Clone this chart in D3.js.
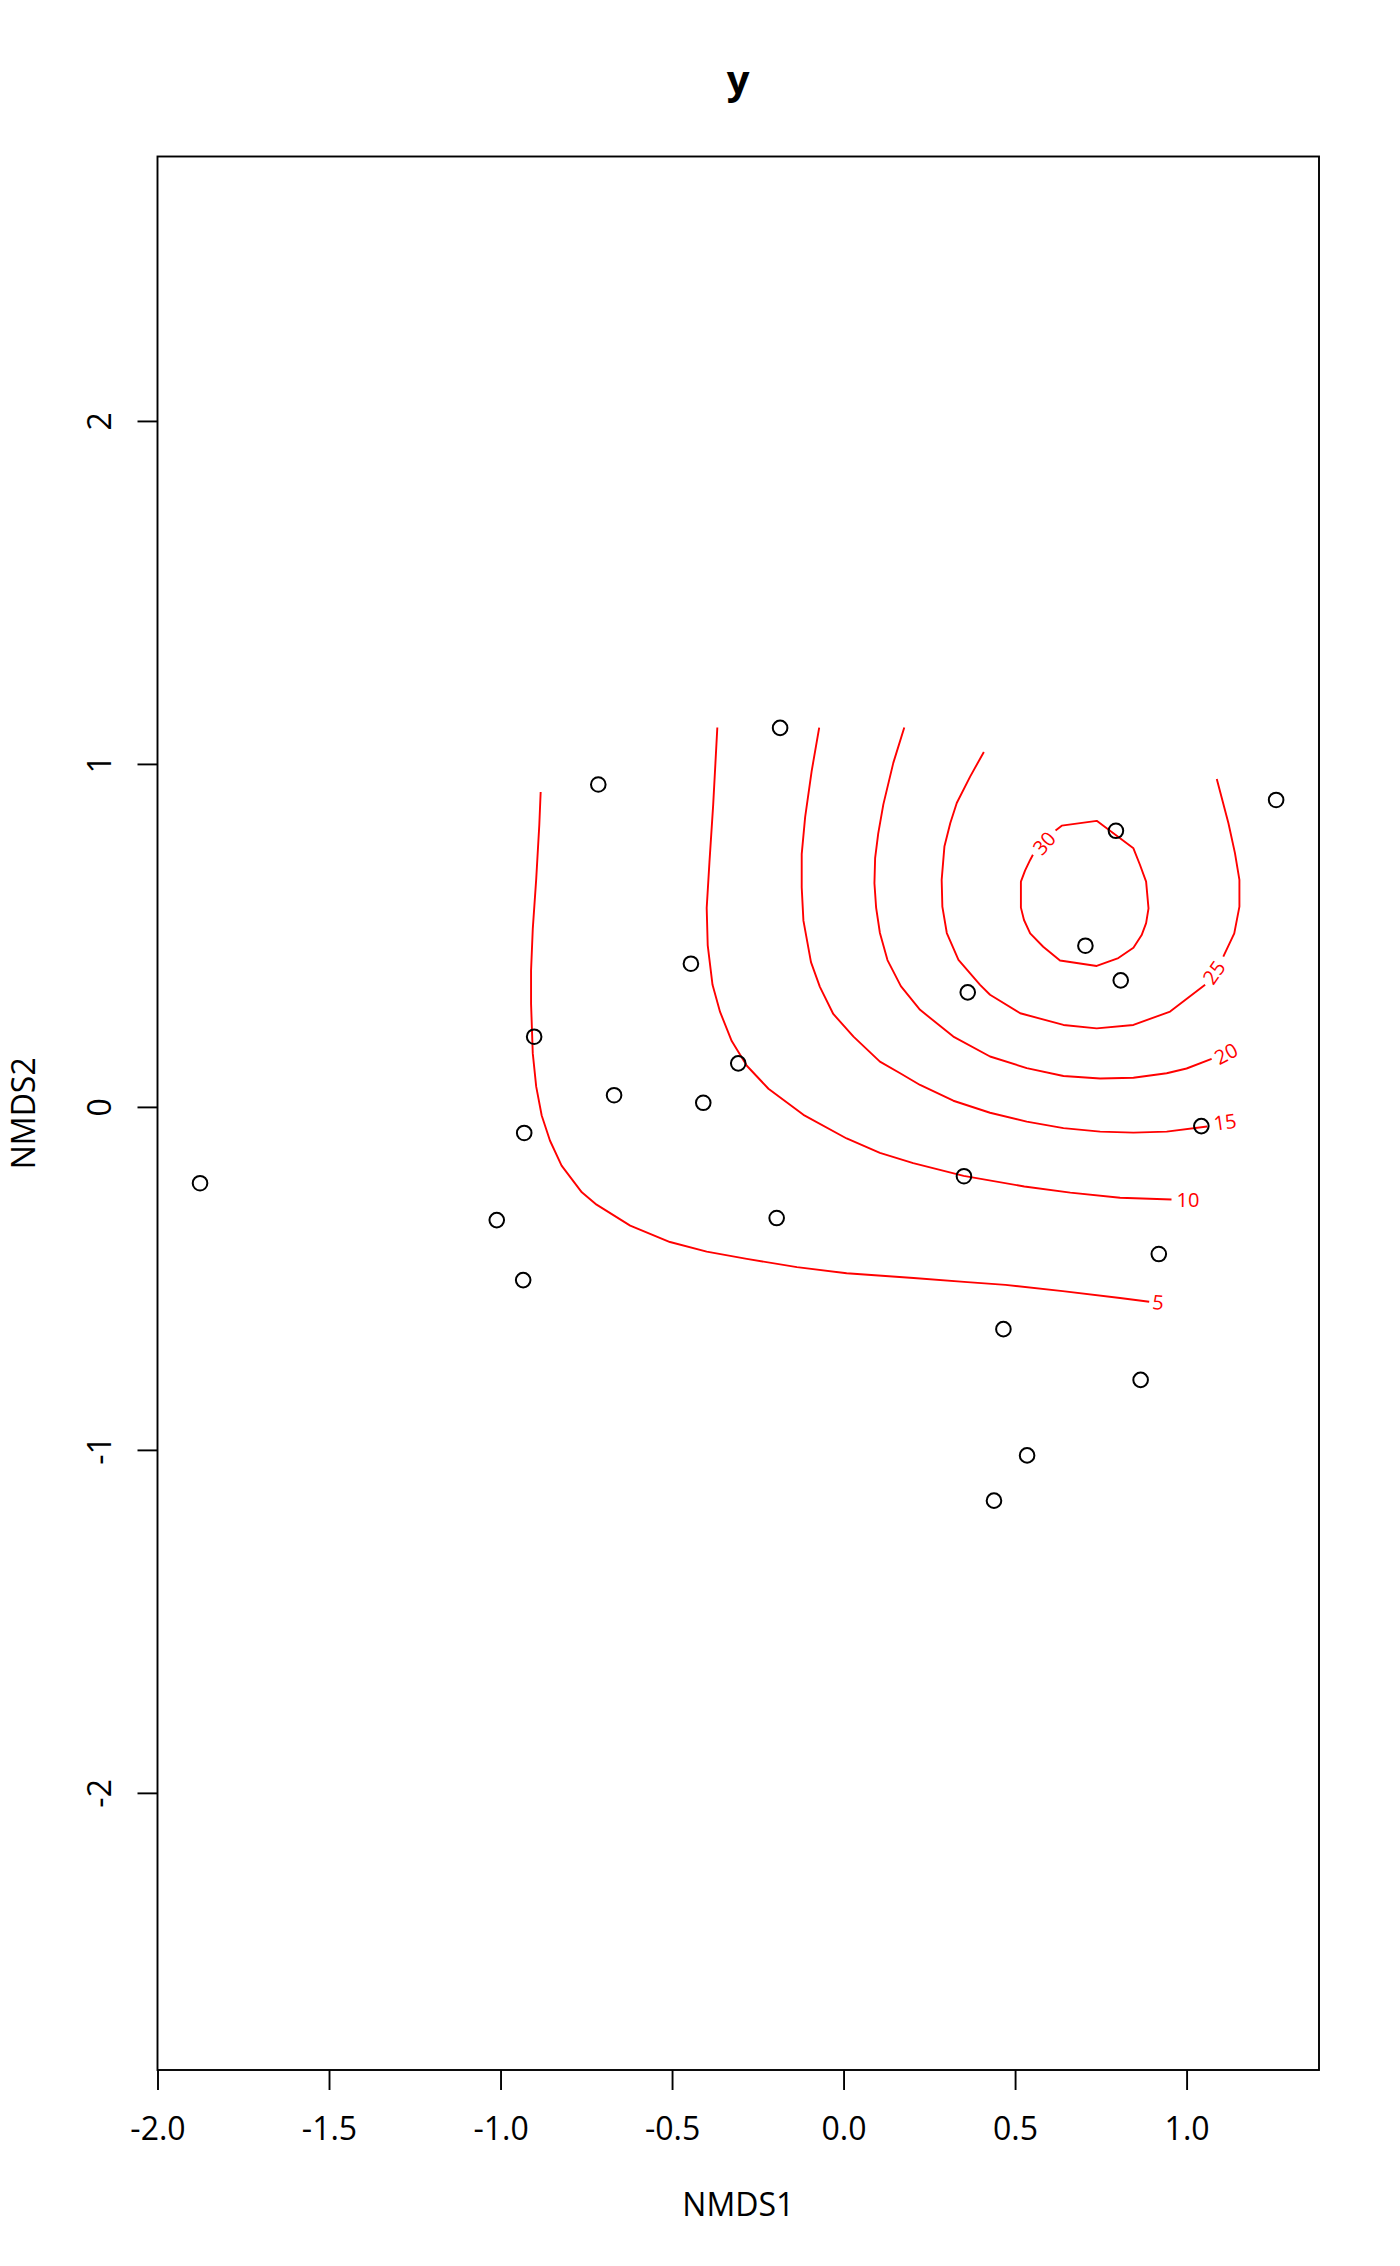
<!DOCTYPE html>
<html>
<head>
<meta charset="utf-8">
<script src="https://cdn.jsdelivr.net/npm/d3@7"></script>
<style>
  body { margin: 0; background: #fff; }
  svg { display: block; }
  text { font-family: "Open Sans", "Noto Sans", sans-serif; }
</style>
</head>
<body>
<svg id="chart" width="1400" height="2266"></svg>
<script>
// ---- Data ----
const title = "y";
const xLabel = "NMDS1";
const yLabel = "NMDS2";
const xTicks = [-2.0, -1.5, -1.0, -0.5, 0.0, 0.5, 1.0];
const yTicks = [-2, -1, 0, 1, 2];
const xLim = [-2.0, 1.386];
const yLim = [-2.808, 2.771];

// site scores (NMDS1, NMDS2)
const siteX = [-1.876, -0.715, -0.185, 1.261, 0.794, 0.705, 0.808, 0.362, -0.445, -0.902, -0.307, -0.669, -0.409, -0.931, -1.011, -0.934, -0.195, 0.351, 1.043, 0.919, 0.466, 0.866, 0.535, 0.4385];
const siteY = [-0.2225, 0.940, 1.105, 0.895, 0.805, 0.470, 0.369, 0.334, 0.4175, 0.2047, 0.127, 0.034, 0.012, -0.076, -0.330, -0.505, -0.324, -0.202, -0.056, -0.429, -0.648, -0.796, -1.016, -1.148];

// fitted surface contours (ordisurf)
const contourLevels = [5, 10, 15, 20, 25, 30];

const c5X = [-0.883, -0.887, -0.896, -0.906, -0.911, -0.911, -0.906, -0.896, -0.880, -0.856, -0.822, -0.763, -0.720, -0.622, -0.506, -0.399, -0.282, -0.136, 0.009, 0.204, 0.361, 0.472, 0.639, 0.806, 0.891];
const c5Y = [0.918, 0.822, 0.664, 0.519, 0.398, 0.301, 0.156, 0.059, -0.025, -0.098, -0.171, -0.249, -0.285, -0.346, -0.394, -0.422, -0.443, -0.467, -0.485, -0.499, -0.511, -0.519, -0.537, -0.557, -0.568];

const c10X = [-0.368, -0.380, -0.391, -0.399, -0.396, -0.382, -0.360, -0.326, -0.282, -0.219, -0.117, 0.009, 0.106, 0.203, 0.350, 0.527, 0.661, 0.806, 0.956];
const c10Y = [1.106, 0.882, 0.713, 0.580, 0.471, 0.356, 0.277, 0.192, 0.120, 0.053, -0.023, -0.092, -0.134, -0.164, -0.201, -0.232, -0.250, -0.265, -0.270];

const c15X = [-0.071, -0.093, -0.112, -0.122, -0.122, -0.117, -0.095, -0.069, -0.030, 0.029, 0.106, 0.165, 0.223, 0.320, 0.427, 0.534, 0.641, 0.748, 0.845, 0.942, 1.060];
const c15Y = [1.106, 0.979, 0.845, 0.737, 0.640, 0.543, 0.422, 0.350, 0.271, 0.205, 0.132, 0.098, 0.064, 0.018, -0.017, -0.043, -0.062, -0.072, -0.075, -0.072, -0.057];

const c20X = [0.177, 0.145, 0.116, 0.101, 0.092, 0.090, 0.095, 0.106, 0.128, 0.167, 0.223, 0.320, 0.427, 0.534, 0.641, 0.748, 0.845, 0.942, 1.000, 1.073];
const c20Y = [1.106, 1.003, 0.882, 0.797, 0.725, 0.652, 0.580, 0.507, 0.428, 0.352, 0.283, 0.205, 0.147, 0.113, 0.090, 0.083, 0.085, 0.098, 0.112, 0.140];

const c25aX = [0.409, 0.369, 0.330, 0.311, 0.294, 0.286, 0.288, 0.301, 0.335, 0.398, 0.427, 0.515, 0.641, 0.738, 0.845, 0.952, 1.054];
const c25aY = [1.035, 0.963, 0.886, 0.827, 0.759, 0.662, 0.584, 0.507, 0.429, 0.356, 0.327, 0.273, 0.239, 0.229, 0.239, 0.278, 0.356];
const c25bX = [1.107, 1.139, 1.154, 1.154, 1.141, 1.122, 1.088];
const c25bY = [0.438, 0.506, 0.584, 0.662, 0.740, 0.827, 0.956];

const c30X = [0.618, 0.636, 0.738, 0.845, 0.864, 0.882, 0.889, 0.882, 0.869, 0.845, 0.801, 0.738, 0.631, 0.582, 0.544, 0.526, 0.517, 0.517, 0.529, 0.544, 0.552];
const c30Y = [0.806, 0.820, 0.834, 0.754, 0.706, 0.657, 0.579, 0.536, 0.501, 0.464, 0.434, 0.411, 0.427, 0.467, 0.506, 0.545, 0.581, 0.657, 0.689, 0.720, 0.735];

// contour label anchor positions (data units) and angles
const labelX = [0.917, 1.004, 1.112, 1.115, 1.080, 0.585];
const labelY = [-0.570, -0.270, -0.044, 0.155, 0.392, 0.769];
const labelAngle = [5, 0, -8, -28, -55, -48];

// ---- Layout ----
const box = { left: 157.5, right: 1319, top: 156.5, bottom: 2070 };
const baseFont = 32;

const svg = d3.select("#chart");
const x = d3.scaleLinear().domain(xLim).range([box.left, box.right]);
const y = d3.scaleLinear().domain(yLim).range([box.bottom, box.top]);

// Title
svg.append("text")
  .attr("x", (box.left + box.right) / 2)
  .attr("y", 93.5)
  .attr("text-anchor", "middle")
  .attr("font-size", 40)
  .attr("font-weight", "bold")
  .attr("fill", "#000")
  .text(title);

// Contours
const line = d3.line().x(d => x(d[0])).y(d => y(d[1]));
const segments = [
  [c5X, c5Y], [c10X, c10Y], [c15X, c15Y], [c20X, c20Y],
  [c25aX, c25aY], [c25bX, c25bY], [c30X, c30Y]
];
svg.append("g").selectAll("path")
  .data(segments.map(([xs, ys]) => xs.map((v, i) => [v, ys[i]])))
  .join("path")
  .attr("d", line)
  .attr("fill", "none")
  .attr("stroke", "#FF0000")
  .attr("stroke-width", 1.9)
  .attr("stroke-linejoin", "round");

svg.append("g").selectAll("text")
  .data(contourLevels.map((lv, i) => ({ lv, x: labelX[i], y: labelY[i], a: labelAngle[i] })))
  .join("text")
  .attr("transform", d => `translate(${x(d.x)},${y(d.y)}) rotate(${d.a})`)
  .attr("text-anchor", "middle")
  .attr("dy", "0.36em")
  .attr("font-size", 20)
  .attr("fill", "#FF0000")
  .text(d => d.lv);

// Points
svg.append("g").selectAll("circle")
  .data(siteX.map((v, i) => [v, siteY[i]]))
  .join("circle")
  .attr("cx", d => x(d[0]))
  .attr("cy", d => y(d[1]))
  .attr("r", 7.3)
  .attr("fill", "none")
  .attr("stroke", "#000")
  .attr("stroke-width", 2);

// Axes
const xAxis = d3.axisBottom(x).tickValues(xTicks).tickSize(20).tickFormat(d => d.toFixed(1));
const gx = svg.append("g").attr("transform", `translate(0,${box.bottom})`).call(xAxis);
gx.select(".domain").remove();
gx.selectAll(".tick line").attr("stroke", "#000").attr("stroke-width", 1.9);
gx.selectAll(".tick text")
  .attr("y", 59 + 0.357 * baseFont)
  .attr("dy", null)
  .attr("font-size", baseFont)
  .attr("font-family", "'Open Sans', sans-serif")
  .attr("fill", "#000");

const yAxis = d3.axisLeft(y).tickValues(yTicks).tickSize(20).tickFormat(d => String(d));
const gy = svg.append("g").attr("transform", `translate(${box.left},0)`).call(yAxis);
gy.select(".domain").remove();
gy.selectAll(".tick line").attr("stroke", "#000").attr("stroke-width", 1.9);
gy.selectAll(".tick text")
  .attr("x", null)
  .attr("dy", null)
  .attr("text-anchor", "middle")
  .attr("transform", `translate(${99.5 - box.left + 0.357 * baseFont},0) rotate(-90)`)
  .attr("font-size", baseFont)
  .attr("font-family", "'Open Sans', sans-serif")
  .attr("fill", "#000");

// Axis titles
svg.append("text")
  .attr("x", (box.left + box.right) / 2)
  .attr("y", 2205 + 0.357 * baseFont)
  .attr("text-anchor", "middle")
  .attr("font-size", baseFont)
  .attr("fill", "#000")
  .text(xLabel);

svg.append("text")
  .attr("transform", `translate(${23.3 + 0.357 * baseFont},${(box.top + box.bottom) / 2}) rotate(-90)`)
  .attr("text-anchor", "middle")
  .attr("font-size", baseFont)
  .attr("fill", "#000")
  .text(yLabel);

// Plot box
svg.append("rect")
  .attr("x", box.left)
  .attr("y", box.top)
  .attr("width", box.right - box.left)
  .attr("height", box.bottom - box.top)
  .attr("fill", "none")
  .attr("stroke", "#000")
  .attr("stroke-width", 1.9);
</script>
</body>
</html>
